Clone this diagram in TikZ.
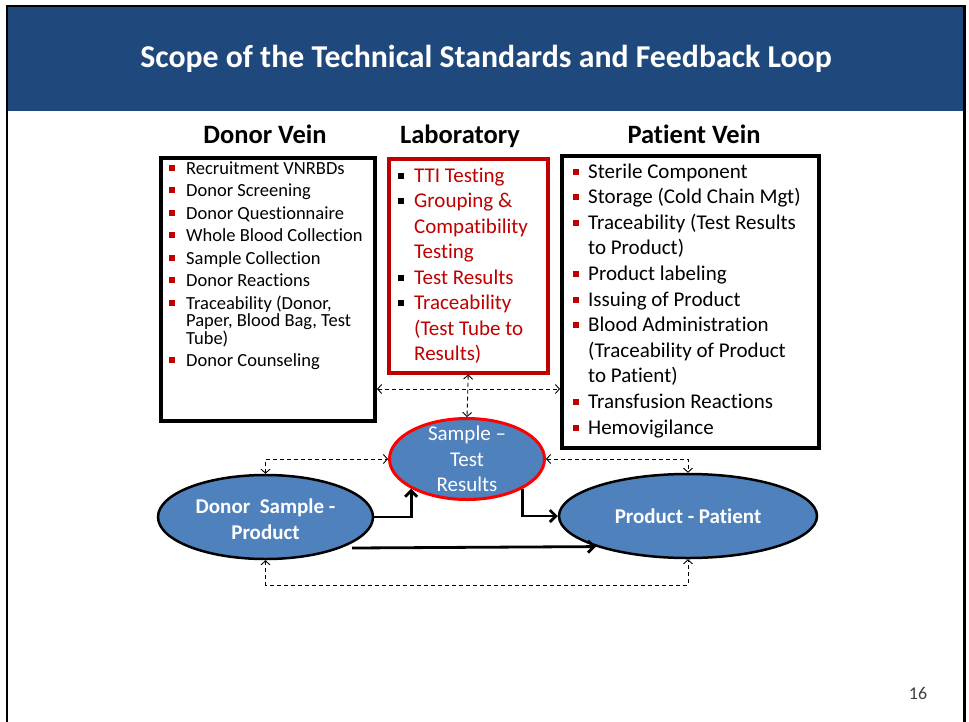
\documentclass[tikz,border=0pt]{standalone}
\usepackage{fontspec}
\setmainfont{Carlito}[Ligatures={NoCommon}]
\usetikzlibrary{arrows.meta,shapes.geometric}
\definecolor{hdrblue}{RGB}{31,73,125}
\definecolor{ellblue}{RGB}{79,129,189}
\definecolor{darkred}{RGB}{192,0,0}
\definecolor{brightred}{RGB}{255,0,0}
\newcommand{\bitem}[3]{\par\noindent\hangindent=#2\hangafter=1\makebox[#2][l]{\color{#1}\rule[3.5pt]{6pt}{6pt}}#3}
\begin{document}
\begin{tikzpicture}[x=1pt,y=-1pt,
  hd/.style={font=\fontsize{26.5}{30}\selectfont\bfseries, anchor=base, inner sep=0},
  frame/.style={draw, anchor=north west, inner sep=0},
  ell/.style={ellipse, draw=black, fill=ellblue, line width=2.5pt, inner sep=0},
  lbl/.style={text=white, align=center, inner sep=0, font=\fontsize{21}{26}\selectfont},
  dsh/.style={line width=0.9pt, dash pattern=on 4pt off 3pt,
    {Straight Barb[length=4pt,width=9pt]}-{Straight Barb[length=4pt,width=9pt]}},
  sol/.style={line width=2.8pt, -{Straight Barb[length=6pt,width=12pt]}},
  txt/.style={anchor=base west, inner sep=0}
]
\useasboundingbox (0,0) rectangle (969,721);
\fill[white] (0,0) rectangle (969,721);
\fill[hdrblue] (8,7) rectangle (963,111);
\draw[line width=2.5pt] (7,725) -- (7,6) -- (964.5,6) -- (964.5,725);

\node[font=\fontsize{31.8}{36}\selectfont\bfseries, text=white, anchor=base, inner sep=0] (title) at (486,67) {Scope of the Technical Standards and Feedback Loop};

\node[hd] (dvh) at (265,143) {Donor Vein};
\node[hd] (lah) at (460,143) {Laboratory};
\node[hd] (pvh) at (694,143) {Patient Vein};

% boxes
\node[frame, line width=4pt, minimum width=214, minimum height=263] (dbox) at (159,156) {};
\node[frame, draw=darkred, line width=3.5pt, minimum width=159, minimum height=214] (lbox) at (387,157) {};
\node[frame, line width=4pt, minimum width=257, minimum height=292] (pbox) at (560,154) {};

% box texts
\node[txt] (dtxt) at (169,174) {\parbox[t]{200pt}{\fontsize{18.5}{17.5}\selectfont\lineskiplimit=-100pt\setlength{\parskip}{5pt}\raggedright
\bitem{darkred}{17pt}{Recruitment VNRBDs}
\bitem{darkred}{17pt}{Donor Screening}
\bitem{darkred}{17pt}{Donor Questionnaire}
\bitem{darkred}{17pt}{Whole Blood Collection}
\bitem{darkred}{17pt}{Sample Collection}
\bitem{darkred}{17pt}{Donor Reactions}
\bitem{darkred}{17pt}{Traceability (Donor,\newline Paper, Blood Bag, Test\newline Tube)}
\bitem{darkred}{17pt}{Donor Counseling}}};

\node[txt, text=darkred] (ltxt) at (398,182) {\parbox[t]{145pt}{\fontsize{21}{25.5}\selectfont\lineskiplimit=-100pt\setlength{\parskip}{0pt}\raggedright
\bitem{black}{16pt}{TTI Testing}
\bitem{black}{16pt}{Grouping \&\newline Compatibility\newline Testing}
\bitem{black}{16pt}{Test Results}
\bitem{black}{16pt}{Traceability\newline (Test Tube to\newline Results)}}};

\node[txt] (ptxt) at (573,178) {\parbox[t]{245pt}{\fontsize{21}{25.6}\selectfont\lineskiplimit=-100pt\setlength{\parskip}{0pt}\raggedright
\bitem{darkred}{15pt}{Sterile Component}
\bitem{darkred}{15pt}{Storage (Cold Chain Mgt)}
\bitem{darkred}{15pt}{Traceability (Test Results\newline to Product)}
\bitem{darkred}{15pt}{Product labeling}
\bitem{darkred}{15pt}{Issuing of Product}
\bitem{darkred}{15pt}{Blood Administration\newline (Traceability of Product\newline to Patient)}
\bitem{darkred}{15pt}{Transfusion Reactions}
\bitem{darkred}{15pt}{Hemovigilance}}};

% ellipses
\node[ell, draw=brightred, line width=3pt, minimum width=155, minimum height=81,
  label={[lbl, font=\fontsize{21}{25.5}\selectfont]center:{Sample --\\Test\\Results}}] (sr) at (467,459) {};
\node[ell, minimum width=215, minimum height=84,
  label={[lbl, font=\fontsize{21}{26}\selectfont\bfseries, yshift=-2pt]center:{Donor\ \ Sample -\\Product}}] (dsp) at (265.5,517) {};
\node[ell, minimum width=258, minimum height=84,
  label={[lbl, font=\fontsize{21}{26}\selectfont\bfseries]center:{Product - Patient}}] (pp) at (688,516) {};

% helper coordinates
\coordinate (hy) at (0,389);
\coordinate (by) at (0,585);
\coordinate (la) at (352,548);

% dashed feedback connectors
\draw[dsh] (dbox.east |- hy) -- (pbox.west |- hy);
\draw[dsh] (lbox.south) -- (sr.north);
\draw[dsh] (dsp.north) |- (sr.west);
\draw[dsh] (sr.east) -| (pp.north);
\draw[dsh] (dsp.south) -- (dsp.south |- by) -| (pp.south);

% solid flow arrows
\draw[sol] (dsp.east) -| (sr.south west);
\draw[sol] (sr.south east) |- (pp.west);
\draw[sol] (la) -- (pp.south west);

\node[font=\fontsize{18}{20}\selectfont, text=black!75, anchor=base, inner sep=0] (pg) at (918,699) {16};
\end{tikzpicture}
\end{document}
